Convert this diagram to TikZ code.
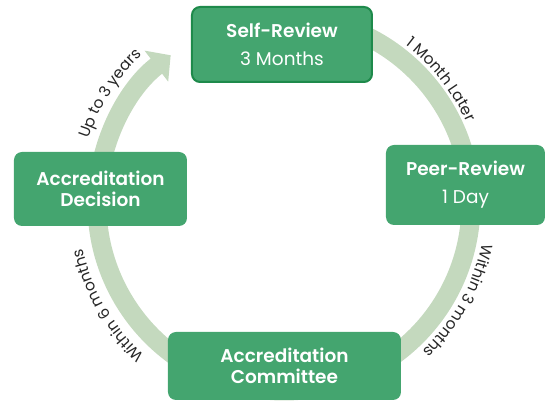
\documentclass[tikz,border=0pt]{standalone}
\usepackage{fontspec}
\setmainfont{Poppins}[BoldFont={Poppins SemiBold}]
\usepackage{tikz}
\usetikzlibrary{arrows.meta}
\usetikzlibrary{positioning}
\usetikzlibrary{decorations.text}

\definecolor{boxgreen}{HTML}{44A56F}
\definecolor{edgegreen}{HTML}{1E8A4B}
\definecolor{ringgreen}{HTML}{C4D9BE}
\definecolor{labelgray}{HTML}{262626}

\newcommand{\stepfont}{\fontsize{18.5}{28}\selectfont}
\newcommand{\titlefont}{\fontsize{18.5}{21}\selectfont\bfseries}
\newcommand{\lagfont}{\fontsize{15.5}{17}\selectfont\color{labelgray}}

\tikzstyle{stage}=[rectangle,rounded corners=8pt,fill=boxgreen,text=white,
                   align=center,inner sep=0pt]
\tikzstyle{ring}=[draw=ringgreen,line width=19pt]
\tikzstyle{interval}=[decorate,decoration={text along path,text align=center}]

\begin{document}
\begin{tikzpicture}[x=1pt,y=1pt]
\useasboundingbox (-284,-197) rectangle (266,204);

% the cycle itself, ending in the arrow into the self-review
\draw[ring,-{Triangle[width=38pt,length=18pt]}] (85:187)
  arc[start angle=85,end angle=-232.7,radius=187];

\node[stage,draw=edgegreen,line width=2pt,minimum width=180pt,minimum height=75pt,
      font=\stepfont] (self) at (-2,159.5) {\textbf{Self-Review}\\3 Months};
\node[stage,minimum width=159pt,minimum height=80pt,font=\stepfont]
      (peer) at (181.5,19) {\textbf{Peer-Review}\\1 Day};
\node[stage,minimum width=233pt,minimum height=68pt,font=\titlefont]
      (committee) at (0.5,-162) {Accreditation\\Committee};
\node[stage,minimum width=173pt,minimum height=74pt,font=\titlefont]
      (decision) at (-183.5,15) {Accreditation\\Decision};

% time between the steps, written along the ring
\path[interval,decoration={text={|\lagfont|1 Month Later}}] (63.4:200)
  arc[start angle=63.4,end angle=13.4,radius=200];
\path[interval,decoration={text={|\lagfont|Within 3 months}}] (-4:202)
  arc[start angle=-4,end angle=-54,radius=202];
\path[interval,decoration={text={|\lagfont|Within 6 months}}] (235:206)
  arc[start angle=235,end angle=185,radius=206];
\path[interval,decoration={text={|\lagfont|Up to 3 years}}] (172.6:206)
  arc[start angle=172.6,end angle=122.6,radius=206];
\end{tikzpicture}
\end{document}
